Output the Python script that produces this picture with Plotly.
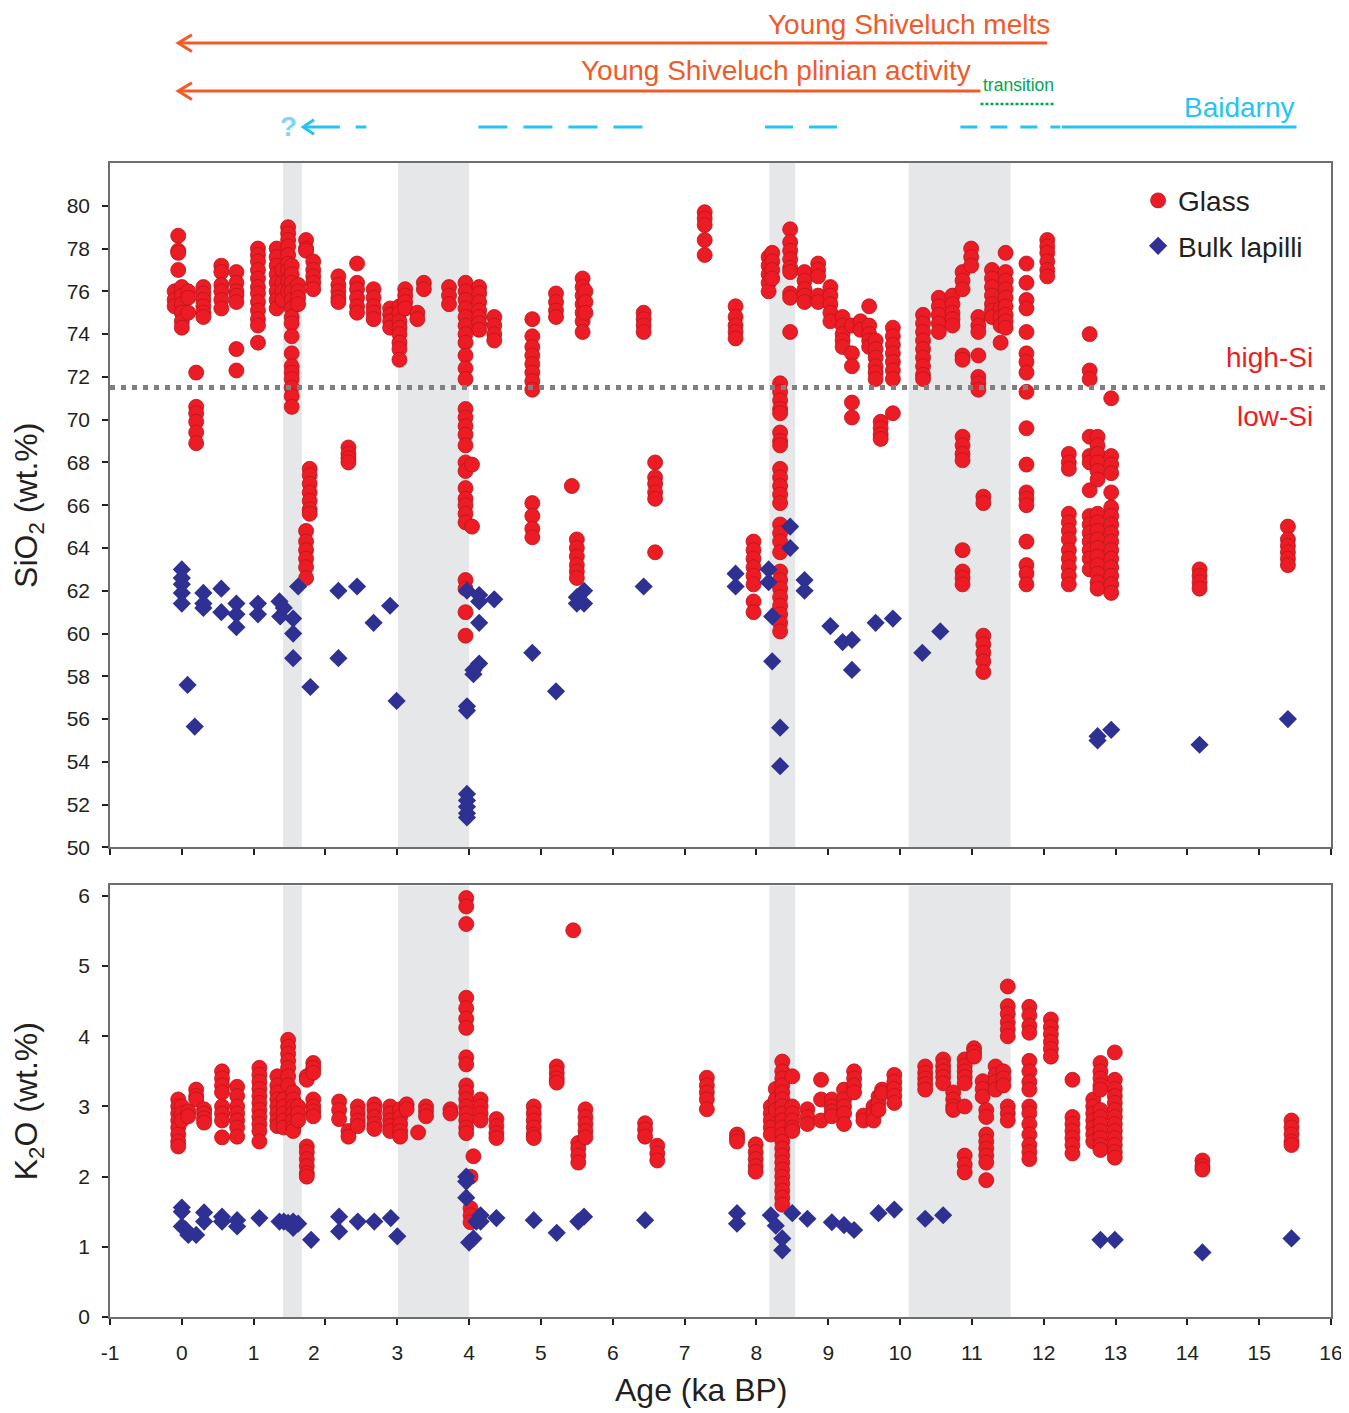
import plotly.graph_objects as go

# ---------------- data ----------------
# Glass SiO2: ages (ka BP) and SiO2 values at each age
glass_sio2_ages = [-0.05, -0.1, 0.0, 0.09, 0.2, 0.3, 0.55, 0.76, 1.06, 1.32, 1.4, 1.48, 1.53, 1.62,
                   1.73, 1.83, 1.73, 1.78, 2.18, 2.32, 2.44, 2.67, 2.9, 3.03, 3.11, 3.28, 3.37, 3.72,
                   3.95, 4.04, 4.14, 4.35, 4.88, 5.21, 5.43, 5.5, 5.58, 5.62, 6.43, 6.59, 7.28, 7.71,
                   7.96, 8.17, 8.22, 8.33, 8.47, 8.67, 8.86, 9.03, 9.2, 9.33, 9.45, 9.57, 9.66, 9.73,
                   9.9, 10.32, 10.54, 10.73, 10.87, 10.99, 11.09, 11.16, 11.28, 11.4, 11.47, 11.76,
                   12.05, 12.35, 12.64, 12.75, 12.94, 14.17, 15.4]
glass_sio2_values = [
    [78.6, 77.9, 77.8, 77.0],
    [76.0, 75.6, 75.3],
    [76.2, 75.8, 75.4, 75.0, 74.6, 74.3],
    [76.0, 75.7, 75.0],
    [72.2, 70.6, 70.3, 69.9, 69.4, 68.9],
    [76.2, 75.9, 75.6, 75.3, 75.0, 74.8],
    [77.2, 76.9, 76.3, 76.0, 75.6, 75.2],
    [76.9, 76.4, 76.0, 75.8, 75.5, 73.3, 72.3],
    [78.0, 77.7, 77.4, 77.0, 76.6, 76.2, 75.9, 75.5, 75.1, 74.7, 74.4, 73.6],
    [78.0, 77.6, 77.2, 76.8, 76.4, 76.0, 75.6, 75.2],
    [77.0, 76.4, 76.0, 75.6],
    [79.0, 78.7, 78.4, 78.1, 77.7, 77.3, 77.0, 76.5, 76.0],
    [77.2, 76.8, 76.4, 76.0, 75.6, 75.2, 74.8, 74.5, 73.9, 73.1, 72.5, 72.2, 71.9, 71.5, 71.1, 70.6],
    [76.3, 76.0, 75.7, 75.4],
    [78.4, 78.0, 77.9],
    [77.4, 77.0, 76.7, 76.4, 76.1],
    [64.8, 64.3, 63.9, 63.5, 63.1, 62.6],
    [67.7, 67.4, 67.0, 66.6, 66.2, 65.8, 65.6],
    [76.7, 76.3, 76.0, 75.7, 75.5],
    [68.7, 68.4, 68.2, 68.0],
    [77.3, 76.4, 76.1, 75.7, 75.3, 75.0],
    [76.1, 75.7, 75.3, 75.0, 74.7],
    [75.2, 74.9, 74.6, 74.3],
    [75.3, 75.0, 74.6, 74.3, 74.0, 73.6, 73.3, 72.8],
    [76.1, 75.8, 75.5, 75.2],
    [75.0, 74.7],
    [76.4, 76.1],
    [76.2, 75.8, 75.4],
    [76.4, 76.0, 75.6, 75.2, 74.8, 74.4, 74.0, 73.6, 73.0, 72.4, 71.9, 70.5, 70.1, 69.7, 69.3, 68.8,
     68.0, 67.6, 66.8, 66.3, 66.0, 65.6, 65.2, 62.5, 62.1, 61.0, 59.9],
    [67.9, 65.0],
    [76.2, 75.9, 75.5, 75.1, 74.8, 74.5, 74.2],
    [74.8, 74.4, 74.0, 73.7],
    [74.7, 73.9, 73.4, 73.0, 72.6, 72.2, 71.8, 71.4, 66.1, 65.5, 64.9, 64.5],
    [75.9, 75.5, 75.1, 74.8],
    [66.9],
    [64.4, 64.0, 63.6, 63.2, 62.9, 62.6],
    [76.6, 76.2, 75.8, 75.4, 75.0, 74.6, 74.1],
    [76.0, 75.5, 75.0],
    [75.0, 74.7, 74.4, 74.1],
    [68.0, 67.3, 67.0, 66.6, 66.3, 63.8],
    [79.7, 79.4, 79.1, 78.4, 77.7],
    [75.3, 74.8, 74.4, 74.1, 73.8],
    [64.3, 63.9, 63.5, 63.1, 62.7, 62.3, 61.5, 61.0],
    [77.6, 77.2, 76.8, 76.4, 76.0],
    [77.8, 77.4, 77.0, 76.6],
    [71.7, 71.3, 70.9, 70.5, 70.3, 69.4, 69.0, 68.8, 67.7, 67.3, 66.9, 66.5, 66.1, 65.1, 64.7, 64.3,
     63.8, 62.9, 62.5, 62.1, 61.7, 61.3, 60.9, 60.5, 60.1],
    [78.9, 78.3, 77.9, 77.5, 77.1, 76.9, 75.9, 75.7, 74.1],
    [76.9, 76.5, 76.1, 75.8, 75.5],
    [77.3, 77.0, 76.7, 75.8, 75.5],
    [76.2, 75.8, 75.4, 75.0, 74.6],
    [74.8, 74.4, 74.0, 73.7, 73.4],
    [74.4, 73.1, 72.5, 70.8, 70.1],
    [74.6, 74.2],
    [75.3, 74.4, 74.0, 73.7, 73.4],
    [73.7, 73.3, 72.9, 72.5, 72.2, 71.9],
    [69.9, 69.6, 69.3, 69.1],
    [74.3, 73.9, 73.5, 73.1, 72.7, 72.3, 71.9, 70.3],
    [74.9, 74.5, 74.1, 73.7, 73.3, 72.9, 72.5, 72.1, 71.9],
    [75.7, 75.3, 74.9, 74.5, 74.1],
    [75.8, 75.4, 75.0, 74.7, 74.4],
    [76.9, 76.5, 76.1, 73.0, 72.8, 69.2, 68.8, 68.4, 68.1, 63.9, 62.9, 62.6, 62.3],
    [78.0, 77.6, 77.2],
    [74.8, 74.4, 74.1, 73.0, 72.0, 71.7, 71.4],
    [66.4, 66.1, 59.9, 59.5, 59.1, 58.7, 58.2],
    [77.0, 76.6, 76.2, 75.8, 75.4, 75.1, 74.8],
    [75.2, 74.8, 74.4, 73.6],
    [77.8, 76.9, 76.5, 76.1, 75.7, 75.3, 74.9, 74.6, 74.3],
    [77.3, 76.4, 75.6, 75.2, 74.1, 73.1, 72.7, 72.2, 71.3, 69.6, 67.9, 66.6, 66.3, 66.0, 64.3, 63.2,
     62.8, 62.3],
    [78.4, 78.1, 77.8, 77.4, 77.0, 76.7],
    [68.4, 68.0, 67.7, 65.6, 65.2, 64.8, 64.4, 63.9, 63.5, 63.1, 62.7, 62.3],
    [74.0, 72.3, 71.9, 69.2, 68.3, 68.0, 66.7, 65.5, 65.1, 64.7, 64.3, 63.9, 63.5, 63.0],
    [69.2, 68.8, 68.4, 68.0, 67.6, 67.2, 65.6, 65.2, 64.8, 64.4, 64.0, 63.6, 63.2, 62.8, 62.4, 62.1],
    [71.0, 68.3, 67.9, 67.5, 66.6, 65.9, 65.5, 65.1, 64.7, 64.3, 63.9, 63.5, 63.1, 62.7, 62.3, 61.9],
    [63.0, 62.7, 62.4, 62.1],
    [65.0, 64.4, 64.1, 63.8, 63.5, 63.2],
]

# Bulk lapilli SiO2
bulk_sio2_ages = [0.0, 0.08, 0.18, 0.3, 0.55, 0.76, 1.06, 1.36, 1.42, 1.37, 1.55, 1.62, 1.79, 2.18,
                  2.44, 2.67, 2.9, 2.99, 3.97, 4.06, 4.14, 4.35, 4.88, 5.21, 5.5, 5.6, 6.43, 7.71,
                  8.17, 8.22, 8.33, 8.47, 8.67, 9.03, 9.2, 9.33, 9.66, 9.9, 10.31, 10.56, 12.75,
                  12.94, 14.17, 15.4]
bulk_sio2_values = [
    [63.0, 62.6, 62.3, 61.9, 61.4], [57.6], [55.65], [61.9, 61.4, 61.2], [62.1, 61.0],
    [61.4, 60.9, 60.3], [61.4, 60.9], [61.5], [61.2], [60.8], [60.7, 60.0, 58.85], [62.2],
    [57.5], [62.0, 58.85], [62.2], [60.5], [61.3], [56.85],
    [62.0, 56.6, 56.4, 52.5, 52.2, 51.9, 51.6, 51.4], [58.3, 58.1], [61.8, 61.5, 60.5, 58.6],
    [61.6], [59.1], [57.3], [61.7, 61.4], [62.0, 61.4], [62.2], [62.8, 62.2], [63.0, 62.4],
    [60.8, 58.7], [55.6, 53.8], [65.0, 64.0], [62.5, 62.0], [60.35], [59.6], [59.7, 58.3],
    [60.5], [60.7], [59.1], [60.1], [55.2, 55.0], [55.5], [54.8], [56.0],
]

# Glass K2O
glass_k2o_ages = [-0.05, 0.0, 0.09, 0.2, 0.31, 0.56, 0.77, 1.08, 1.33, 1.42, 1.48, 1.55, 1.62, 1.74,
                  1.83, 2.19, 2.32, 2.45, 2.68, 2.9, 3.04, 3.13, 3.29, 3.4, 3.74, 3.96, 4.02, 4.06,
                  4.16, 4.38, 4.9, 5.22, 5.45, 5.52, 5.62, 6.45, 6.62, 7.31, 7.73, 7.99, 8.2, 8.27,
                  8.36, 8.5, 8.71, 8.9, 9.05, 9.22, 9.36, 9.49, 9.63, 9.7, 9.75, 9.92, 10.35, 10.6,
                  10.74, 10.9, 11.03, 11.15, 11.2, 11.33, 11.44, 11.5, 11.8, 12.1, 12.4, 12.69,
                  12.79, 12.99, 14.21, 15.45]
glass_k2o_values = [
    [3.1, 3.0, 2.9, 2.8, 2.7, 2.6, 2.5, 2.43],
    [3.0, 2.9, 2.8],
    [2.93, 2.86],
    [3.24, 3.15, 3.1],
    [2.96, 2.9, 2.83, 2.77],
    [3.5, 3.4, 3.3, 3.2, 3.0, 2.9, 2.8, 2.56],
    [3.28, 3.15, 3.0, 2.9, 2.8, 2.7, 2.57],
    [3.55, 3.45, 3.35, 3.25, 3.15, 3.05, 2.95, 2.85, 2.75, 2.65, 2.5],
    [3.43, 3.3, 3.2, 3.1, 3.0, 2.9, 2.8, 2.72],
    [3.1, 3.0, 2.9, 2.8, 2.7],
    [3.95, 3.85, 3.75, 3.65, 3.55, 3.43, 3.3],
    [3.2, 3.1, 3.0, 2.9, 2.8, 2.7, 2.65],
    [3.0, 2.9, 2.8],
    [3.43, 3.38, 2.43, 2.35, 2.25, 2.15, 2.05, 2.0],
    [3.62, 3.55, 3.48, 3.1, 3.0, 2.93, 2.86],
    [3.07, 2.95, 2.82],
    [2.65, 2.57],
    [3.0, 2.9, 2.8, 2.72],
    [3.03, 2.95, 2.85, 2.75, 2.68],
    [3.0, 2.9, 2.8, 2.72, 2.65],
    [2.96, 2.85, 2.75, 2.65, 2.57],
    [3.03, 2.96],
    [2.63],
    [3.0, 2.93, 2.86],
    [2.96, 2.9],
    [5.97, 5.85, 5.6, 4.55, 4.4, 4.25, 4.12, 3.7, 3.6, 3.3, 3.2, 3.1, 3.0, 2.9, 2.8, 2.7, 2.62],
    [2.0, 1.55, 1.45, 1.35],
    [2.29],
    [3.1, 3.0, 2.9, 2.8],
    [2.82, 2.72, 2.62, 2.55],
    [3.0, 2.9, 2.8, 2.7, 2.6, 2.55],
    [3.57, 3.48, 3.4, 3.34],
    [5.51],
    [2.48, 2.4, 2.3, 2.2],
    [2.96, 2.85, 2.75, 2.65, 2.56],
    [2.76, 2.67, 2.57],
    [2.44, 2.33, 2.23],
    [3.41, 3.3, 3.2, 3.1, 2.96],
    [2.6, 2.55, 2.5],
    [2.46, 2.35, 2.25, 2.15, 2.07],
    [3.0, 2.9, 2.8, 2.7, 2.6],
    [3.25, 3.1, 2.95],
    [3.64, 3.5, 3.4, 3.3, 3.2, 3.1, 3.0, 2.9, 2.8, 2.7, 2.6, 2.5, 2.4, 2.3, 2.2, 2.1, 2.0, 1.9,
     1.8, 1.7, 1.6],
    [3.43, 3.0, 2.9, 2.8, 2.7, 2.65],
    [2.96, 2.85, 2.75],
    [3.38, 3.1, 2.8],
    [3.1, 3.0, 2.93, 2.86],
    [3.24, 3.1, 3.0, 2.9, 2.75],
    [3.5, 3.4, 3.3, 3.2],
    [2.87, 2.8],
    [3.0, 2.9, 2.8],
    [3.14, 3.05, 2.95],
    [3.24, 3.19],
    [3.45, 3.35, 3.25, 3.15, 3.05],
    [3.57, 3.48, 3.4, 3.32, 3.24],
    [3.67, 3.58, 3.5, 3.42, 3.33],
    [3.2, 3.1, 3.0, 2.95],
    [3.67, 3.58, 3.5, 3.42, 3.33, 3.0, 2.3, 2.17, 2.06],
    [3.83, 3.77, 3.71],
    [3.36, 3.25, 3.14],
    [2.95, 2.85, 2.6, 2.5, 2.4, 2.3, 2.2, 1.95],
    [3.57, 3.45, 3.35, 3.24],
    [3.5, 3.4, 3.3],
    [4.71, 4.43, 4.32, 4.2, 4.1, 4.0, 3.0, 2.9, 2.8],
    [4.42, 4.3, 4.15, 4.05, 3.65, 3.5, 3.35, 3.24, 3.0, 2.9, 2.75, 2.6, 2.45, 2.35, 2.25],
    [4.24, 4.13, 4.03, 3.92, 3.82, 3.71],
    [3.38, 2.85, 2.75, 2.65, 2.55, 2.45, 2.33],
    [3.1, 3.0, 2.9, 2.8, 2.7, 2.6, 2.5],
    [3.62, 3.5, 3.4, 3.3, 3.24, 2.95, 2.85, 2.75, 2.65, 2.55, 2.45, 2.38],
    [3.77, 3.38, 3.25, 3.15, 3.05, 2.95, 2.85, 2.75, 2.65, 2.55, 2.45, 2.35, 2.27],
    [2.23, 2.15, 2.1],
    [2.8, 2.7, 2.6, 2.5, 2.45],
]

# Bulk lapilli K2O
bulk_k2o_ages = [0.0, 0.05, 0.09, 0.2, 0.31, 0.56, 0.77, 1.08, 1.36, 1.42, 1.48, 1.55, 1.62, 1.8,
                 2.19, 2.45, 2.68, 2.91, 3.0, 3.96, 4.0, 4.06, 4.1, 4.16, 4.38, 4.9, 5.22, 5.52,
                 5.6, 6.45, 7.73, 8.2, 8.27, 8.36, 8.5, 8.71, 9.05, 9.22, 9.36, 9.7, 9.92, 10.35,
                 10.6, 12.79, 12.99, 14.21, 15.45]
bulk_k2o_values = [
    [1.56, 1.5, 1.29], [1.25], [1.17], [1.17], [1.49, 1.36], [1.43, 1.36], [1.38, 1.29], [1.41],
    [1.36], [1.36], [1.34], [1.36, 1.27], [1.33], [1.1], [1.43, 1.22], [1.36], [1.36], [1.41],
    [1.15], [2.0, 1.93, 1.7], [1.06], [1.12], [1.36], [1.45, 1.36], [1.41], [1.38], [1.2],
    [1.36], [1.43], [1.38], [1.48, 1.33], [1.45], [1.3], [1.12, 0.95], [1.48], [1.4], [1.35],
    [1.31], [1.24], [1.48], [1.53], [1.4], [1.45], [1.1], [1.1], [0.92], [1.12],
]

# shaded age intervals (ka BP)
band_starts = [1.41, 3.01, 8.18, 10.12]
band_ends = [1.67, 4.0, 8.54, 11.54]

si_boundary = 71.5
x_ticks = list(range(-1, 17))
x_tick_labels = ["-1", "0", "1", "2\u00a0\u00a0\u00a0\u00a0", "3", "4", "5", "6", "7", "8", "9",
                 "10", "11", "12", "13", "14", "15", "16"]
sio2_ticks = list(range(50, 81, 2))
k2o_ticks = list(range(0, 7))

# ---------------- helpers ----------------
def flatten(ages, values):
    xs, ys = [], []
    for a, vs in zip(ages, values):
        for v in vs:
            xs.append(a)
            ys.append(v)
    return xs, ys

RED = "#ed1c24"
RED_EDGE = "#b8141c"
BLUE = "#2e3192"
ORANGE = "#f15a29"
CYAN = "#27c4f2"
GREEN = "#00a651"
TXT = "#231f20"
FONT = "Liberation Sans, Arial, sans-serif"

fig = go.Figure()

gx, gy = flatten(glass_sio2_ages, glass_sio2_values)
bx, by = flatten(bulk_sio2_ages, bulk_sio2_values)
gkx, gky = flatten(glass_k2o_ages, glass_k2o_values)
bkx, bky = flatten(bulk_k2o_ages, bulk_k2o_values)

glass_marker = dict(symbol="circle", size=15, color=RED, line=dict(color=RED_EDGE, width=0.8))
bulk_marker = dict(symbol="diamond", size=14, color=BLUE, line=dict(width=0))

fig.add_trace(go.Scatter(x=gx, y=gy, mode="markers", marker=glass_marker, name="Glass",
                         legendgroup="g", xaxis="x", yaxis="y"))
fig.add_trace(go.Scatter(x=bx, y=by, mode="markers", marker=bulk_marker, name="Bulk lapilli",
                         legendgroup="b", xaxis="x", yaxis="y"))
fig.add_trace(go.Scatter(x=gkx, y=gky, mode="markers", marker=glass_marker, name="Glass",
                         showlegend=False, xaxis="x2", yaxis="y2"))
fig.add_trace(go.Scatter(x=bkx, y=bky, mode="markers", marker=bulk_marker, name="Bulk lapilli",
                         showlegend=False, xaxis="x2", yaxis="y2"))

shapes = []
for s, e in zip(band_starts, band_ends):
    for xr, yr in (("x", "y domain"), ("x2", "y2 domain")):
        shapes.append(dict(type="rect", xref=xr, yref=yr, x0=s, x1=e, y0=0, y1=1,
                           fillcolor="#e6e7e8", line=dict(width=0), layer="below"))
# high/low Si boundary
shapes.append(dict(type="line", xref="x domain", yref="y", x0=0, x1=1, y0=si_boundary,
                   y1=si_boundary, line=dict(color="#808080", width=5, dash="5px,6px")))

# --- timeline lines above the chart (x in ages, y in paper units) ---
def hline(x0, x1, y, color, width, dash="solid"):
    shapes.append(dict(type="line", xref="x", yref="paper", x0=x0, x1=x1, y0=y, y1=y,
                       line=dict(color=color, width=width, dash=dash)))

def arrow(tip, tail, y, color, width, dx, dy):
    hline(tip + 0.02, tail, y, color, width)
    shapes.append(dict(type="path", xref="x", yref="paper",
                       path=f"M {tip+dx},{y+dy} L {tip},{y} L {tip+dx},{y-dy}",
                       line=dict(color=color, width=width)))

arrow(-0.05, 12.05, 1.1039, ORANGE, 3, 0.19, 0.0072)
arrow(-0.05, 11.12, 1.0623, ORANGE, 3, 0.19, 0.0072)
hline(11.12, 12.14, 1.0511, GREEN, 2.5, "3px,2px")          # transition
hline(12.25, 15.52, 1.0312, CYAN, 3)                          # Baidarny solid
hline(10.84, 12.23, 1.0312, CYAN, 3, "17px,13px")
hline(8.12, 9.13, 1.0312, CYAN, 3, "28px,16px")
hline(4.13, 6.54, 1.0312, CYAN, 3, "29px,16px")
hline(2.42, 2.57, 1.0312, CYAN, 3)
arrow(1.69, 2.2, 1.0312, CYAN, 3, 0.15, 0.0062)

annotations = []

def text(x, y, s, color, size, anchor="right"):
    annotations.append(dict(x=x, y=y, xref="x", yref="paper", text=s, showarrow=False,
                            xanchor=anchor, yanchor="middle",
                            font=dict(color=color, size=size, family=FONT)))

text(12.12, 1.1203, "Young Shiveluch melts", ORANGE, 28)
text(11.02, 1.0805, "Young Shiveluch plinian activity", ORANGE, 28)
text(11.12, 1.0675, "transition", GREEN, 17.5, "left")
text(15.53, 1.0485, "Baidarny", CYAN, 28)
text(1.49, 1.0312, "<b>?</b>", "#80d4f6", 28, "center")

annotations.append(dict(x=0.987, y=72.9, xref="x domain", yref="y", text="high-Si",
                        showarrow=False, xanchor="right", yanchor="middle",
                        font=dict(color=RED, size=28, family=FONT)))
annotations.append(dict(x=0.987, y=70.15, xref="x domain", yref="y", text="low-Si",
                        showarrow=False, xanchor="right", yanchor="middle",
                        font=dict(color=RED, size=28, family=FONT)))

# x-axis title placed as in the reference (slightly left of centre)
annotations.append(dict(x=7.23, y=-0.0632, xref="x2", yref="paper",
                        text="Age (ka BP)", showarrow=False,
                        xanchor="center", yanchor="middle",
                        font=dict(size=32, family=FONT, color=TXT)))

axis_common = dict(showline=True, linecolor="#6d6e71", linewidth=1.5, mirror=True,
                   ticks="outside", tickcolor=TXT, tickwidth=1.5, ticklen=6,
                   showgrid=False, zeroline=False,
                   tickfont=dict(size=21, color=TXT, family=FONT))

fig.update_layout(
    width=1349, height=1413,
    margin=dict(l=102, r=26, t=155, b=104),
    paper_bgcolor="white", plot_bgcolor="white",
    font=dict(family=FONT, color=TXT),
    shapes=shapes, annotations=annotations,
    showlegend=True,
    legend=dict(x=0.842, y=0.989, xanchor="left", yanchor="top", bgcolor="rgba(0,0,0,0)",
                font=dict(size=28, family=FONT, color=TXT), tracegroupgap=6,
                itemsizing="trace"),
    xaxis=dict(domain=[0, 1], anchor="y", range=[-1, 16], tickvals=x_ticks,
               showticklabels=False, **axis_common),
    yaxis=dict(domain=[0.4069, 1], anchor="x", range=[50, 82], tickvals=sio2_ticks,
               ticklabelstandoff=8,
               title=dict(text="SiO<sub>2</sub> (wt.%)", font=dict(size=32, family=FONT),
                          standoff=22),
               **axis_common),
    xaxis2=dict(domain=[0, 1], anchor="y2", range=[-1, 16], tickvals=x_ticks,
                ticktext=x_tick_labels, ticklabelstandoff=10, **axis_common),
    yaxis2=dict(domain=[0, 0.374], anchor="x2", range=[0, 6.15], tickvals=k2o_ticks,
                ticklabelstandoff=8,
                title=dict(text="K<sub>2</sub>O (wt.%)", font=dict(size=32, family=FONT),
                           standoff=34),
                **axis_common),
)

fig.write_html("out.html")
